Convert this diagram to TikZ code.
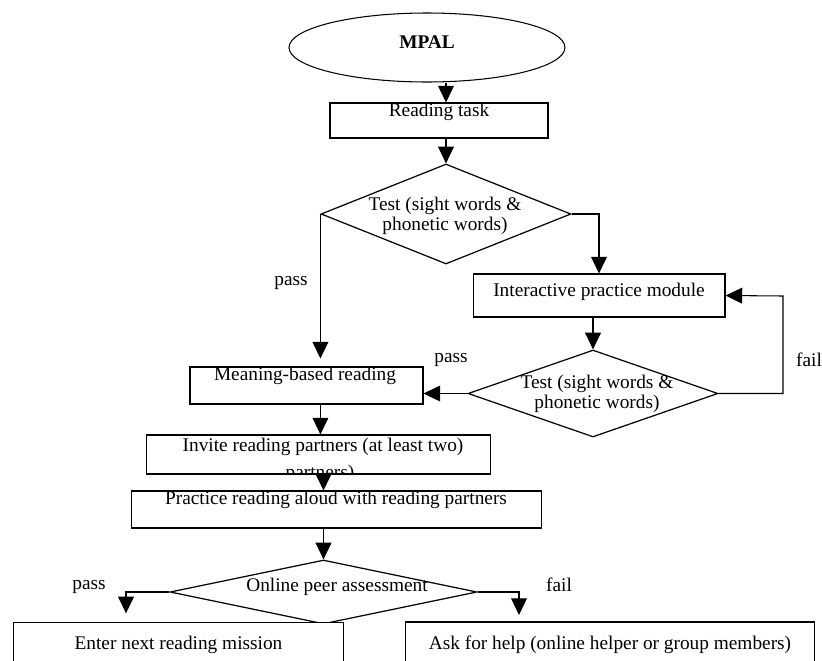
\documentclass[tikz,border=0pt]{standalone}
\usepackage{fontspec}
\setmainfont{Liberation Serif}
\usetikzlibrary{shapes.geometric,arrows.meta}

\tikzset{
  box/.style={draw,line width=0.6pt,fill=white,inner sep=0pt},
  dia/.style={diamond,draw,line width=0.7pt,fill=white,inner sep=0pt},
  arr/.style={line width=0.6pt,-{Triangle[length=9.5pt,width=9pt]}},
  lbl/.style={inner sep=0pt,align=center},
}

\begin{document}
\begin{tikzpicture}[x=0.02cm,y=-0.02cm,font=\fontsize{11}{11.5}\selectfont]
\useasboundingbox (0,0) rectangle (822,660);
\clip (0,0) rectangle (822,660);

\node[ellipse,draw,line width=0.6pt,inner sep=0pt,minimum width=5.52cm,minimum height=1.38cm] (mpal) at (427,47.5) {};
\node[lbl,font=\fontsize{11}{11.5}\selectfont\bfseries] (mpaltxt) at (427,42) {MPAL};

\node[box,minimum width=4.36cm,minimum height=0.7cm] (task) at (439,120.5) {};
\node[lbl] (tasktxt) at (439,112) {Reading task};

\node[dia,minimum width=5cm,minimum height=2cm] (d1) at (446,214) {};
\node[lbl] (d1txt) at (445,215.5) {Test (sight words \&\\phonetic words)};

\node[box,minimum width=5.04cm,minimum height=0.86cm] (inter) at (599,295.5) {};
\node[lbl] (intertxt) at (599,292) {Interactive practice module};

\node[dia,minimum width=5cm,minimum height=1.74cm] (d2) at (593,393.5) {};
\node[lbl] (d2txt) at (597,394) {Test (sight words \&\\phonetic words)};

\node[box,minimum width=4.66cm,minimum height=0.74cm] (meaning) at (306.5,385.5) {};
\node[lbl] (meaningtxt) at (305,376) {Meaning-based reading};

\node[box,minimum width=6.9cm,minimum height=0.78cm] (invite) at (318.5,454.5) {};
\node[lbl] (invitetxt) at (323,447) {Invite reading partners (at least two)};
\begin{scope}
\clip (invite.south west) rectangle (invite.north east);
\node[lbl,anchor=base] (invitetxt2) at (320,478) {partners)};
\end{scope}

\node[box,minimum width=8.22cm,minimum height=0.74cm] (practice) at (336.5,509.5) {};
\node[lbl] (practicetxt) at (336,500) {Practice reading aloud with reading partners};

\node[dia,minimum width=6.14cm,minimum height=1.28cm] (d3) at (323.5,592) {};
\node[lbl] (d3txt) at (337,587) {Online peer assessment};

\node[box,minimum width=6.62cm,minimum height=1.34cm] (enter) at (178.5,656) {};
\node[lbl] (entertxt) at (178.5,645) {Enter next reading mission};
\node[box,minimum width=8.2cm,minimum height=1.36cm] (ask) at (610,656) {};
\node[lbl] (asktxt) at (610,645) {Ask for help (online helper or group members)};

\coordinate (loop) at (783,296);
\coordinate (passin) at (126,623);
\coordinate (failin) at (519,622);

\draw[arr] (mpal.south -| d1.north) -- (task.north -| d1.north);
\draw[arr] (task.south -| d1.north) -- (d1.north);
\draw[arr] (d1.east) -| (inter.north);
\draw[arr,shorten >=4.5pt] (d1.west) -- (d1.west |- meaning.north);
\draw[arr] (inter.south -| d2.north) -- (d2.north);
\draw[arr] (d2.west) -- (d2.west -| meaning.east);
\draw[arr] (d2.east) -| (loop) -- (inter.east);
\draw[arr] (meaning.south -| d1.west) -- (invite.north -| d1.west);
\draw[arr] (invite.south -| d3.north) -- (practice.north -| d3.north);
\draw[arr] (practice.south -| d3.north) -- (d3.north);
\draw[arr,shorten >=5.5pt] (d3.west) -| (passin);
\draw[arr,shorten >=4pt] (d3.east) -| (failin);

\node[lbl] (pass1) at (291,283) {pass};
\node[lbl] (pass2) at (451,360) {pass};
\node[lbl] (fail1) at (809,360) {fail};
\node[lbl] (pass3) at (89,587) {pass};
\node[lbl] (fail2) at (559,585) {fail};
\end{tikzpicture}
\end{document}
